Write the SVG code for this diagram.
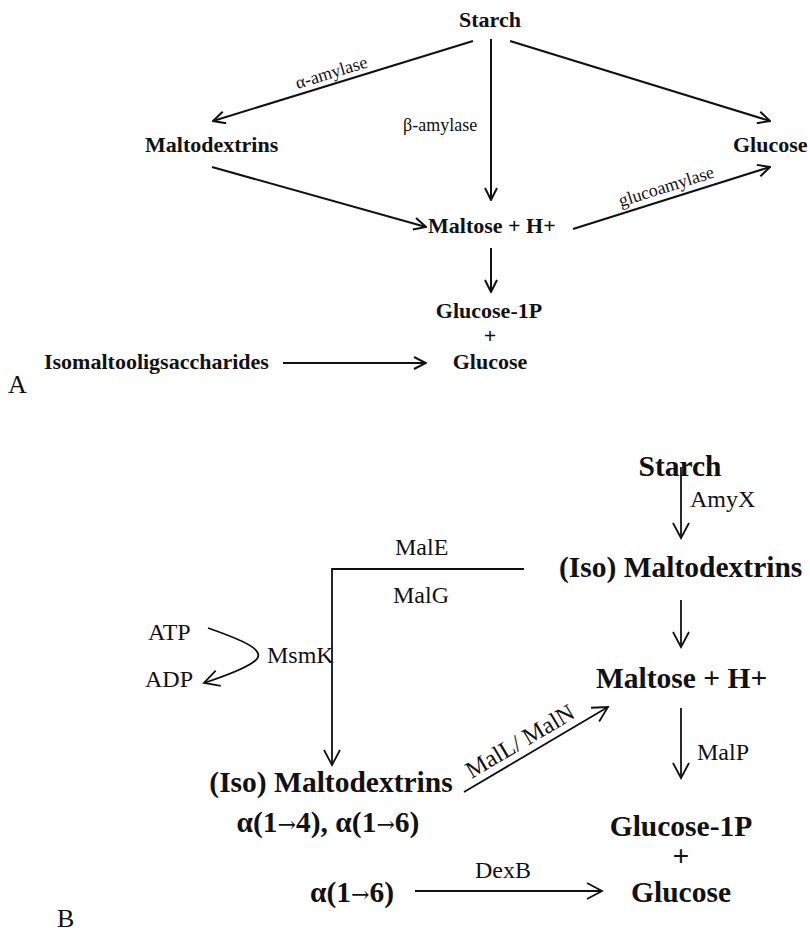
<svg xmlns="http://www.w3.org/2000/svg" width="810" height="934" viewBox="0 0 810 934">
  <style>
    text { font-family: "Liberation Serif", "Times New Roman", serif; fill: #111; }
    .na { font-size: 22px; font-weight: bold; }
    .ea { font-size: 18px; }
    .nb { font-size: 29.5px; font-weight: bold; }
    .eb { font-size: 24px; }
    .panel { font-size: 26px; }
    .to { font-family: "DejaVu Serif", serif; font-weight: normal; font-size: 22px; }
    .ca { fill: none; stroke: #111; stroke-width: 2; marker-end: url(#headA); }
    .cb { fill: none; stroke: #111; stroke-width: 1.8; }
    .cb.arrow { marker-end: url(#headB); }
  </style>
  <defs>
    <marker id="headA" markerUnits="userSpaceOnUse" markerWidth="14" markerHeight="14" viewBox="-1 -1 14 14" refX="12" refY="6" orient="auto">
      <path d="M0,0 L12,6 L0,12" fill="none" stroke="#111" stroke-width="2"/>
    </marker>
    <marker id="headB" markerUnits="userSpaceOnUse" markerWidth="18" markerHeight="18" viewBox="-1 -1 18 18" refX="15" refY="8" orient="auto">
      <path d="M0,0 L15,8 L0,16" fill="none" stroke="#111" stroke-width="1.8"/>
    </marker>
  </defs>

  <!-- Panel A: starch degradation -->
  <g id="a-starch"><text class="na" x="490" y="27" text-anchor="middle">Starch</text></g>
  <g id="a-maltodextrins"><text class="na" x="145" y="152">Maltodextrins</text></g>
  <g id="a-glucose"><text class="na" x="733" y="152">Glucose</text></g>
  <g id="a-maltose"><text class="na" x="428" y="233">Maltose + H+</text></g>
  <g id="a-products">
    <text class="na" x="489" y="318" text-anchor="middle">Glucose-1P</text>
    <text class="na" x="490" y="343" text-anchor="middle">+</text>
    <text class="na" x="490" y="369" text-anchor="middle">Glucose</text>
  </g>
  <g id="a-isomalto"><text class="na" x="44" y="369">Isomaltooligsaccharides</text></g>
  <g id="a-label"><text class="panel" x="8" y="393">A</text></g>

  <g id="a-connectors">
    <line class="ca" x1="473" y1="41" x2="213" y2="121"/>
    <line class="ca" x1="491" y1="39" x2="491" y2="200"/>
    <line class="ca" x1="510" y1="41" x2="770" y2="121"/>
    <line class="ca" x1="212" y1="167" x2="426" y2="227"/>
    <line class="ca" x1="573" y1="229" x2="770" y2="167"/>
    <line class="ca" x1="491" y1="248" x2="491" y2="292"/>
    <line class="ca" x1="283" y1="363" x2="426" y2="363"/>
    <text class="ea" transform="translate(333 78) rotate(-17.1)" text-anchor="middle">α-amylase</text>
    <text class="ea" x="403" y="131">β-amylase</text>
    <text class="ea" transform="translate(668 192) rotate(-17.5)" text-anchor="middle">glucoamylase</text>
  </g>

  <!-- Panel B: uptake and metabolism -->
  <g id="b-starch"><text class="nb" x="680" y="476" text-anchor="middle">Starch</text></g>
  <g id="b-isomalto-out"><text class="nb" x="559" y="577">(Iso) Maltodextrins</text></g>
  <g id="b-maltose"><text class="nb" x="596" y="688">Maltose + H+</text></g>
  <g id="b-isomalto-in">
    <text class="nb" x="331" y="792" text-anchor="middle">(Iso) Maltodextrins</text>
    <text class="nb" x="328" y="832" text-anchor="middle">α(1<tspan class="to">→</tspan>4), α(1<tspan class="to">→</tspan>6)</text>
  </g>
  <g id="b-products">
    <text class="nb" x="681" y="836" text-anchor="middle">Glucose-1P</text>
    <text class="nb" x="681" y="866" text-anchor="middle">+</text>
    <text class="nb" x="681" y="902" text-anchor="middle">Glucose</text>
  </g>
  <g id="b-a16"><text class="nb" x="352" y="902" text-anchor="middle">α(1<tspan class="to">→</tspan>6)</text></g>
  <g id="b-atp"><text class="eb" x="148" y="640">ATP</text></g>
  <g id="b-adp"><text class="eb" x="145" y="687">ADP</text></g>
  <g id="b-label"><text class="panel" x="57" y="927">B</text></g>

  <g id="b-connectors">
    <line class="cb arrow" x1="681" y1="467" x2="681" y2="538"/>
    <path class="cb arrow" d="M524,569 H332 V765"/>
    <line class="cb arrow" x1="681" y1="600" x2="681" y2="647"/>
    <path class="cb arrow" d="M208,628 C248,642 270,652 252,663 C240,671 222,677 204,683"/>
    <line class="cb arrow" x1="464" y1="792" x2="608" y2="707"/>
    <line class="cb arrow" x1="681" y1="708" x2="681" y2="778"/>
    <line class="cb arrow" x1="415" y1="891" x2="602" y2="891"/>
    <text class="eb" x="690" y="507">AmyX</text>
    <text class="eb" x="395" y="555">MalE</text>
    <text class="eb" x="393" y="603">MalG</text>
    <text class="eb" x="267" y="663">MsmK</text>
    <text class="eb" transform="translate(524 748) rotate(-30.5)" text-anchor="middle">MalL/ MalN</text>
    <text class="eb" x="697" y="760">MalP</text>
    <text class="eb" x="503" y="878" text-anchor="middle">DexB</text>
  </g>
</svg>
